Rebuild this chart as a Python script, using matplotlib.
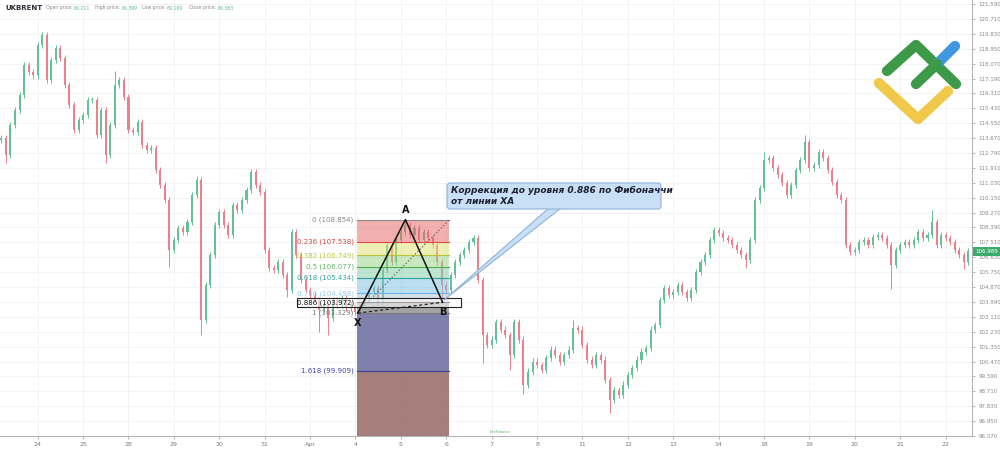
import numpy as np
import matplotlib.pyplot as plt
import matplotlib.transforms as mtransforms
from matplotlib.patches import Rectangle, Polygon, FancyBboxPatch

# --- data (UKBRENT, ~10 bars per trading day) ---
day_labels = ['24', '25', '28', '29', '30', '31', 'Apr', '4', '5', '6', '7',
              '8', '11', '12', '13', '14', '18', '19', '20', '21', '22']
bars_per_day = 10
first_open = 113.80

closes = [
    # 23 (partly visible)
    113.56, 113.56, 113.68, 112.67, 114.44, 115.33, 116.22, 117.99, 117.57, 117.39,
    # 24
    119.17, 119.76, 117.10, 118.28, 118.99, 118.40, 116.81, 115.62, 114.15, 114.74,
    # 25
    115.03, 115.92, 115.92, 113.85, 115.33, 112.67, 114.44, 116.81, 117.10, 116.10,
    # 28
    114.15, 114.03, 114.62, 113.26, 112.97, 113.08, 111.79, 110.90, 110.01, 107.06,
    # 29
    107.65, 108.36, 108.12, 108.71, 110.31, 111.20, 102.93, 104.99, 106.77, 108.54,
    # 30
    109.31, 108.54, 107.95, 109.72, 109.42, 110.01, 110.60, 111.67, 110.90, 110.49,
    # 31
    107.06, 106.00, 105.88, 106.35, 105.58, 104.70, 108.12, 106.77, 105.29, 104.70,
    # Apr 1
    104.40, 104.11, 103.52, 103.81, 103.04, 104.11, 103.81, 104.23, 103.64, 103.81,
    # 4
    103.40, 103.81, 104.23, 104.58, 104.82, 103.81, 105.88, 107.36, 106.35, 107.65,
    # 5
    108.12, 108.54, 107.95, 108.36, 107.65, 108.12, 107.77, 107.36, 106.35, 104.99,
    # 6
    104.70, 105.58, 106.35, 106.77, 107.06, 107.53, 107.77, 105.29, 102.04, 101.45,
    # 7
    101.75, 102.81, 102.34, 102.04, 100.86, 102.81, 101.75, 99.09, 99.86, 100.45,
    # 8
    100.27, 99.97, 100.68, 101.16, 100.86, 100.45, 100.86, 101.16, 102.45, 102.34,
    # 11
    101.45, 100.57, 100.27, 100.86, 100.57, 99.38, 98.20, 98.79, 98.50, 99.09,
    # 12
    99.68, 100.09, 100.57, 101.04, 101.27, 102.34, 102.63, 104.11, 104.82, 104.40,
    # 13
    104.58, 104.99, 104.58, 104.23, 104.70, 105.76, 106.35, 106.77, 107.65, 108.24,
    # 14
    108.06, 107.77, 107.65, 107.36, 107.06, 106.77, 106.47, 107.65, 110.01, 110.72,
    # 18
    112.38, 112.49, 111.90, 111.49, 111.02, 110.31, 110.90, 111.79, 112.38, 113.44,
    # 19
    111.90, 112.08, 112.85, 112.49, 111.79, 111.08, 110.31, 110.01, 107.36, 106.94,
    # 20
    107.06, 107.53, 107.65, 107.36, 107.83, 107.95, 107.77, 107.36, 106.18, 107.06,
    # 21
    107.36, 107.53, 107.36, 107.65, 108.12, 107.77, 107.95, 108.71, 107.36, 107.95,
    # 22
    107.77, 107.53, 107.06, 106.77, 106.35, 106.989,
]

# long wicks (bar index -> price)
spike_high = {11: 119.88, 27: 117.63, 45: 111.43, 57: 111.84, 91: 108.854,
              128: 102.93, 170: 112.85, 179: 113.85, 207: 109.42}
spike_low = {3: 112.20, 25: 112.20, 39: 106.06, 46: 102.04, 65: 104.29,
             72: 102.20, 74: 102.04, 80: 103.329, 99: 103.97, 108: 100.39,
             114: 99.97, 117: 98.56, 136: 97.43, 153: 104.17, 166: 106.00,
             198: 104.76, 214: 105.94}

fib_ratios = [0, 0.236, 0.382, 0.5, 0.618, 0.786, 0.886, 1, 1.618]
fib_prices = [108.854, 107.538, 106.749, 106.077, 105.434, 104.498, 103.972, 103.329, 99.909]
fib_start, fib_end = 7.03, 9.07   # in trading-day units

pattern_names = ['X', 'A', 'B']
pattern_x = [7.05, 8.10, 8.92]
pattern_p = [103.329, 108.854, 103.972]

header_labels = ['Open price:', 'High price:', 'Low price:', 'Close price:']
header_values = ['69.211', '69.399', '69.169', '69.383']
last_price = 106.989

# --- styles ---
GREEN = '#62c295'
RED = '#f07f8c'
line_cols = ['#8a8a8a', '#e04848', '#b8c23a', '#4caf50', '#2aa39a', '#64b5f6',
             '#222222', '#7a7a7a', '#3a3f96']
label_cols = ['#8a8a8a', '#d64545', '#c3c83a', '#5cb85c', '#33a8a0', '#9ccbef',
              '#111111', '#7a7a7a', '#3a44a8']
zone_cols = [('#e56161', 0.5), ('#dde16b', 0.5), ('#93d381', 0.5), ('#7fcda1', 0.5),
             ('#7bc1e1', 0.5), ('#afc3cd', 0.5), ('#8c8c8c', 0.8), ('#5f6098', 0.8),
             ('#905f5c', 0.8)]

W, H = 1000, 449
fig = plt.figure(figsize=(W / 100, H / 100), dpi=100)
ax = fig.add_axes([0, 13 / H, 972 / W, 436 / H])

closes = np.array(closes)
n = len(closes)
xs = np.arange(n) / bars_per_day - 1
opens = np.r_[first_open, closes[:-1]]
wick = 0.2
highs = np.maximum(opens, closes) + wick
lows = np.minimum(opens, closes) - wick
for k, v in spike_high.items():
    highs[k] = max(highs[k], v)
for k, v in spike_low.items():
    lows[k] = min(lows[k], v)

up = closes >= opens
cols = np.where(up, GREEN, RED)
ax.vlines(xs, lows, highs, colors=cols, lw=0.7, zorder=2)
ax.bar(xs, np.maximum(np.abs(closes - opens), 0.05), bottom=np.minimum(opens, closes),
       width=0.045, color=cols, zorder=3, linewidth=0)

ymin, ymax = 96.08, 121.83
ax.set_xlim(-0.83, 20.58)
ax.set_ylim(ymin, ymax)

# fibonacci zones
bounds = fib_prices + [ymin]
for k in range(len(fib_prices)):
    c, a = zone_cols[k]
    ax.add_patch(Rectangle((fib_start, bounds[k + 1]), fib_end - fib_start,
                           bounds[k] - bounds[k + 1], facecolor=c, alpha=a,
                           edgecolor='none', zorder=4))
for k, (r, p) in enumerate(zip(fib_ratios, fib_prices)):
    ax.plot([fib_start, fib_end], [p, p], color=line_cols[k], lw=0.8, zorder=5)
    ax.text(fib_start - 0.07, p, f'{r:g} ({p:.3f})', ha='right', va='center',
            fontsize=5, color=label_cols[k], zorder=9)

# highlighted 0.886 box
ax.add_patch(Rectangle((5.71, fib_prices[6] - 0.27), 9.32 - 5.71, 0.54,
                       facecolor=(1, 1, 1, 0.55), edgecolor='#222222', lw=0.8, zorder=7))

# fib trend line and XAB pattern
ax.plot([fib_start, fib_end], [fib_prices[7], fib_prices[0]], ls=':', color='#666666',
        lw=0.9, zorder=6)
ax.plot(pattern_x, pattern_p, color='#111111', lw=1.1, zorder=8)
ax.plot([pattern_x[0], pattern_x[2]], [pattern_p[0], pattern_p[2]], ls=(0, (2.5, 2)),
        color='#222222', lw=0.9, zorder=8)
offs = [(0, -7), (0, 7), (0, -7)]
for name, x, p, o in zip(pattern_names, pattern_x, pattern_p, offs):
    ax.annotate(name, (x, p), xytext=o, textcoords='offset points', ha='center',
                va='center', fontsize=7, fontweight='bold', color='#111111', zorder=10)

# axes styling
ax.yaxis.tick_right()
price_ticks = np.round(96.07 + 0.88 * np.arange(30), 3)
ax.set_yticks(price_ticks)
ax.set_yticklabels([f'{t:.3f}' for t in price_ticks])
ax.set_xticks(range(len(day_labels)))
ax.set_xticklabels(day_labels)
ax.tick_params(axis='y', labelsize=4, labelcolor='#8a8a8a', color='#aaaaaa',
               length=2.5, width=0.6, pad=2)
ax.tick_params(axis='x', labelsize=4.5, labelcolor='#7a7a7a', color='#aaaaaa',
               length=2.5, width=0.6, pad=2)
ax.grid(color='#f1f1f1', lw=0.6)
ax.set_axisbelow(True)
for s in ['top', 'left']:
    ax.spines[s].set_visible(False)
for s in ['bottom', 'right']:
    ax.spines[s].set_color('#b5b5b5')
    ax.spines[s].set_linewidth(0.8)

trans = mtransforms.blended_transform_factory(ax.transAxes, ax.transData)
ax.text(1.003, last_price, f'{last_price:.3f}', transform=trans, ha='left', va='center',
        fontsize=4, color='white', zorder=10, clip_on=False,
        bbox=dict(boxstyle='square,pad=0.35', fc='#3dab6a', ec='none'))

# overlay in pixel coords: header, callout, logo
ov = fig.add_axes([0, 0, 1, 1])
ov.set_xlim(0, W)
ov.set_ylim(H, 0)
ov.axis('off')
ov.patch.set_alpha(0)

ov.text(5, 8, 'UKBRENT', fontsize=5, fontweight='bold', color='#2a2e39', va='center')
hx = [46, 95, 142, 189]
for x, lab, val in zip(hx, header_labels, header_values):
    t = ov.text(x, 8, lab + ' ', fontsize=3.3, color='#8a8a8a', va='center')
    ov.annotate(val, xy=(1, 0.5), xycoords=t, va='center', ha='left',
                fontsize=3.3, color='#5cbf8a')

ov.add_patch(Polygon([(549, 208), (561, 208), (444, 300)], closed=True,
                     facecolor='#c9dff5', edgecolor='#8fb3d9', lw=0.8, zorder=3))
ov.add_patch(FancyBboxPatch((447, 183), 214, 26, boxstyle='round,pad=0,rounding_size=3',
                            facecolor='#c9dff5', edgecolor='#8fb3d9', lw=0.8, zorder=4))
ov.text(451, 190.5, 'Коррекция до уровня 0.886 по Фибоначчи', fontsize=6.5,
        fontweight='bold', style='italic', color='#1c2030', va='center', zorder=5)
ov.text(451, 201.5, 'от линии XA', fontsize=6.5, fontweight='bold', style='italic',
        color='#1c2030', va='center', zorder=5)

# LiteFinance logo
ov.plot([879, 918, 948], [83, 119, 91], color='#f0c84a', lw=7.4,
        solid_capstyle='round', solid_joinstyle='round')
ov.plot([887, 916, 956], [71, 45, 84], color='#3c9a48', lw=7.4,
        solid_capstyle='round', solid_joinstyle='round')
ov.plot([937, 955], [64, 46], color='#3f97e0', lw=7.4, solid_capstyle='round')
ov.plot([916, 937], [84, 64], color='#3c9a48', lw=7.4, solid_capstyle='round')

# bottom watermark
ov.text(490, 432, 'LiteFinance', fontsize=2.6, color='#4fae5a', va='center')

fig.savefig('out.png', dpi=100)
